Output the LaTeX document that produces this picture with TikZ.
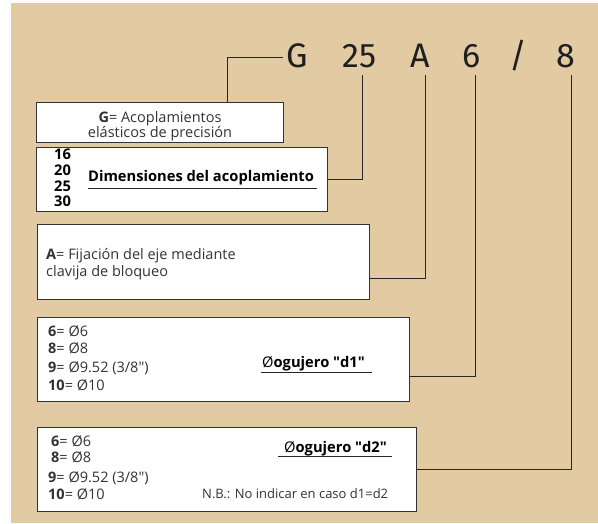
\documentclass[tikz,border=0pt]{standalone}
\usepackage{fontspec}
\setmainfont{Open Sans}
\newfontfamily\codefont{Fira Sans}
\usetikzlibrary{shadows}
\definecolor{sand}{RGB}{226,202,162}
\tikzset{
  box/.style={draw=black!80,line width=0.7pt,fill=white,anchor=north west,inner sep=0pt,
    drop shadow={shadow xshift=0.9pt,shadow yshift=-0.9pt,fill=black!55,opacity=1}},
  code/.style={anchor=base,inner sep=0pt,text=black!88,font=\codefont\fontsize{34}{34}\selectfont},
  lead/.style={draw=black!85,line width=0.7pt},
  txt/.style={anchor=base west,inner sep=0pt,text=black!80,font=\fontsize{14.5}{17}\selectfont},
  head/.style={txt,text=black,font=\fontsize{14.7}{17}\selectfont\bfseries}
}
\begin{document}
\begin{tikzpicture}[x=1pt,y=-1pt]
  \useasboundingbox (0,0) rectangle (598,523);
  \fill[sand] (11,3) rectangle (598,523);

  % code
  \node[code] (cG) at (297.5,67) {G};
  \node[code] (c25) at (359.5,67) {25};
  \node[code] (cA) at (420,67) {A};
  \node[code] (c6) at (471.5,67) {6};
  \node[code] (cS) at (518.5,67) {/};
  \node[code] (c8) at (566,67) {8};
  \coordinate (gend) at (283,57);
  \coordinate (t25) at (362,75);
  \coordinate (tA) at (425,75);
  \coordinate (t6) at (475,75);
  \coordinate (t8) at (571,75);

  % boxes
  \node[box,minimum width=247pt,minimum height=40pt] (gbox) at (36,102) {};
  \node[box,minimum width=291pt,minimum height=64pt] (dimbox) at (36,147) {};
  \node[box,minimum width=332pt,minimum height=75pt] (abox) at (37,224) {};
  \node[box,minimum width=372pt,minimum height=84pt] (dobox) at (37,317) {};
  \node[box,minimum width=379pt,minimum height=84pt] (dtbox) at (37,427) {};

  \draw[lead] (gend) -| ([xshift=67.5pt]gbox.north);
  \draw[lead] (dimbox.east) -| (t25);
  \draw[lead] ([yshift=-16.5pt]abox.east) -| (tA);
  \draw[lead] ([yshift=-17pt]dobox.east) -| (t6);
  \draw[lead] (dtbox.east) -| (t8);

  % G
  \node[txt,anchor=base] (gl1) at (160,122) {\textbf{G}= Acoplamientos};
  \node[txt,anchor=base] (gl2) at (160,137) {elásticos de precisión};

  % 25
  \foreach \n/\y in {16/159,20/175,25/191,30/206}
    \node[head] (s\n) at (54,\y) {\n};
  \node[head] (dimhead) at (88,181) {Dimensiones del acoplamiento};
  \draw[lead] ([yshift=-7pt]dimhead.base west) -- ([xshift=3pt,yshift=-7pt]dimhead.base east);

  % A
  \node[txt] (al1) at (46,259) {\textbf{A}= Fijación del eje mediante};
  \node[txt] (al2) at (46,276) {clavija de bloqueo};

  % d1
  \foreach \k/\v/\y in {6/Ø6/336,8/Ø8/353,9/{Ø9.52 (3/8\textquotedbl)}/372,10/Ø10/390}
    \node[txt] (da\k) at (48,\y) {\textbf{\k}= \v};
  \node[head] (dahead) at (262,367) {\mdseries Ø\bfseries ogujero \textquotedbl d1\textquotedbl};
  \draw[lead] ([xshift=-1pt,yshift=-5pt]dahead.base west) -- ([xshift=7pt,yshift=-5pt]dahead.base east);

  % d2
  \foreach \k/\v/\x/\y in {6/Ø6/51/446,8/Ø8/51/462,9/{Ø9.52 (3/8\textquotedbl)}/48/482,10/Ø10/48/499}
    \node[txt] (db\k) at (\x,\y) {\textbf{\k}= \v};
  \node[head] (dbhead) at (284,452) {\mdseries Ø\bfseries ogujero \textquotedbl d2\textquotedbl};
  \draw[lead] ([xshift=-6pt,yshift=-4pt]dbhead.base west) -- ([xshift=5pt,yshift=-4pt]dbhead.base east);
  \node[txt,font=\fontsize{13}{15}\selectfont] (nb) at (202,498) {N.B.: No indicar en caso d1=d2};
\end{tikzpicture}
\end{document}
